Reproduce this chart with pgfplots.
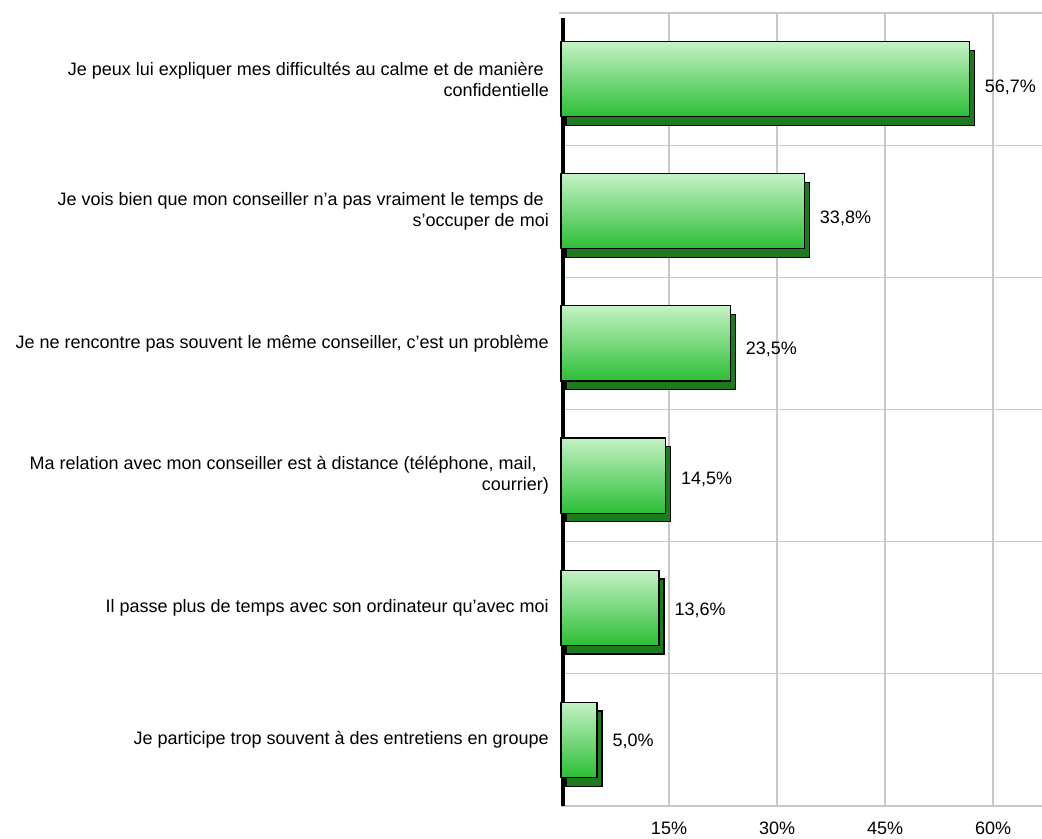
\documentclass[border=0pt]{standalone}
\usepackage{pgfplots}
\pgfplotsset{compat=1.18}
\usepackage{fontspec}
\setmainfont{Liberation Sans}

\definecolor{gridgray}{RGB}{200,200,200}
\definecolor{barlight}{RGB}{196,242,196}
\definecolor{bardark}{RGB}{44,190,54}
\definecolor{barside}{RGB}{30,122,30}
\newcommand\chartfont{\fontsize{18bp}{21bp}\selectfont}

\pgfplotsset{
  front/.style={xbar, bar width=0.568, bar shift=0pt,
    top color=barlight, bottom color=bardark,
    draw=black, line width=1.2bp,
    point meta=x,
    visualization depends on={y \as \rawy},
    nodes near coords={\pgfmathprintnumber[fixed,fixed zerofill,precision=1,use comma]{\pgfplotspointmeta}\%},
    every node near coord/.append style={anchor=west, inner sep=0pt, xshift=15bp,
      yshift={-(1.2+1.5*\rawy)*1bp}, font=\chartfont, text=black}},
}

\begin{document}
\begin{tikzpicture}
\useasboundingbox (0,0) rectangle (1042bp,839bp);
\begin{axis}[
  at={(561bp,33bp)}, anchor=south west,
  scale only axis, width=481bp, height=793bp,
  xmin=0, xmax=66.8, ymin=-0.5, ymax=5.5,
  clip=false,
  axis line style={draw=none},
  major tick length=0pt, minor tick length=0pt,
  xtick={15,30,45,60},
  xticklabel={\pgfmathprintnumber{\tick}\%},
  xticklabel style={anchor=north, inner sep=0pt, yshift=-16bp, font=\chartfont},
  /pgf/number format/assume math mode=true,
  ytick={0,...,5},
  minor ytick={0.5,1.5,2.5,3.5,4.5},
  yticklabels={
    Je participe trop souvent à des entretiens en groupe,
    Il passe plus de temps avec son ordinateur qu’avec moi,
    {Ma relation avec mon conseiller est à distance (téléphone, mail,\hspace*{12bp}\\courrier)},
    {Je ne rencontre pas souvent le même conseiller, c’est un problème},
    Je vois bien que mon conseiller n’a pas vraiment le temps de\hspace*{5bp}\\s’occuper de moi,
    Je peux lui expliquer mes difficultés au calme et de manière\hspace*{5bp}\\confidentielle
  },
  yticklabel style={anchor=east, inner sep=0pt, xshift=-12bp, align=right, font=\chartfont},
  xmajorgrids, yminorgrids,
  grid style={gridgray, line width=1.3bp},
  minor grid style={gridgray, line width=1.3bp},
]
\draw[gridgray, line width=2.5bp] (rel axis cs:0,0) -- (rel axis cs:1,0);
\draw[gridgray, line width=2bp] ([xshift=-2bp]rel axis cs:0,1) -- (rel axis cs:1,1);
\draw[black, line width=3.5bp] ([xshift=2bp]rel axis cs:0,0) -- ([xshift=2bp,yshift=-5bp]rel axis cs:0,1);

% depth face of the bars
\addplot[xbar, bar width=0.568, bar shift=0pt, fill=barside, draw=black, line width=1.2bp,
  xshift=5bp, yshift=-8.7bp, forget plot]
  coordinates {(5.0,0) (13.6,1) (14.5,2) (23.5,3) (33.8,4) (56.7,5)};

% front faces, one plot per bar so that each bar gets its own gradient
\addplot[front] coordinates {(5.0,0)};
\addplot[front] coordinates {(13.6,1)};
\addplot[front] coordinates {(14.5,2)};
\addplot[front] coordinates {(23.5,3)};
\addplot[front] coordinates {(33.8,4)};
\addplot[front] coordinates {(56.7,5)};
\end{axis}
\end{tikzpicture}
\end{document}
